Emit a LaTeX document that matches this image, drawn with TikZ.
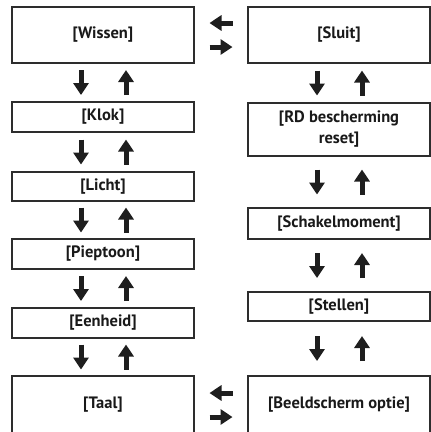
\documentclass[tikz,border=0pt]{standalone}
\usepackage{fontspec}
\setmainfont{PT Sans}
\usetikzlibrary{arrows.meta, calc}
\definecolor{boxline}{RGB}{45,45,45}
\definecolor{arrowcolor}{RGB}{30,30,30}

% pair of up/down arrows between two stacked boxes
\newcommand{\updown}[2]{%
  \draw[blockarrow] ($(#1.south)!0.5!(#2.north)+(-22,-12.5)$) -- ($(#1.south)!0.5!(#2.north)+(-22,12.5)$);
  \draw[blockarrow] ($(#1.south)!0.5!(#2.north)+(23,12.5)$) -- ($(#1.south)!0.5!(#2.north)+(23,-12.5)$);
}

\begin{document}
\begin{tikzpicture}[x=1pt, y=-1pt]
  \tikzset{
    menubox/.style={
      draw=boxline,
      line width=1.5pt,
      fill=white,
      minimum width=182pt,
      inner sep=0pt,
      align=center,
      font=\fontsize{16.5}{21}\selectfont\bfseries,
      text=black!90,
      anchor=center
    },
    blockarrow/.style={
      draw=arrowcolor,
      line width=5pt,
      -{Triangle[length=12pt, width=15pt]},
      arrowcolor
    }
  }
  \useasboundingbox (0,0) rectangle (431,432);

  % Left column
  \node[menubox, minimum height=56pt] (wissen) at (103, 35) {[Wissen]};
  \node[menubox, minimum height=30pt] (klok) at (103, 117) {[Klok]};
  \node[menubox, minimum height=29pt] (licht) at (103, 186.5) {[Licht]};
  \node[menubox, minimum height=30pt] (pieptoon) at (103, 254) {[Pieptoon]};
  \node[menubox, minimum height=30pt] (eenheid) at (103, 323) {[Eenheid]};
  \node[menubox, minimum height=58pt] (taal) at (103, 405) {[Taal]};

  % Right column
  \node[menubox, minimum height=56pt] (sluit) at (339, 35) {[Sluit]};
  \node[menubox, minimum height=53pt] (rdreset) at (339, 129.5) {[RD bescherming\\reset]};
  \node[menubox, minimum height=31pt] (schakel) at (339, 223.5) {[Schakelmoment]};
  \node[menubox, minimum height=29pt] (stellen) at (339, 306.5) {[Stellen]};
  \node[menubox, minimum height=58pt] (beeld) at (339, 405) {[Beeldscherm optie]};

  % Vertical arrows
  \updown{wissen}{klok}
  \updown{klok}{licht}
  \updown{licht}{pieptoon}
  \updown{pieptoon}{eenheid}
  \updown{eenheid}{taal}
  \updown{sluit}{rdreset}
  \updown{rdreset}{schakel}
  \updown{schakel}{stellen}
  \updown{stellen}{beeld}

  % Horizontal arrows
  \draw[blockarrow] ($(wissen.east)!0.5!(sluit.west)+(11.5,-12)$) -- ($(wissen.east)!0.5!(sluit.west)+(-11.5,-12)$);
  \draw[blockarrow] ($(wissen.east)!0.5!(sluit.west)+(-11.5,12)$) -- ($(wissen.east)!0.5!(sluit.west)+(11.5,12)$);
  \draw[blockarrow] ($(taal.east)!0.5!(beeld.west)+(11.5,-12)$) -- ($(taal.east)!0.5!(beeld.west)+(-11.5,-12)$);
  \draw[blockarrow] ($(taal.east)!0.5!(beeld.west)+(-11.5,12)$) -- ($(taal.east)!0.5!(beeld.west)+(11.5,12)$);
\end{tikzpicture}
\end{document}
